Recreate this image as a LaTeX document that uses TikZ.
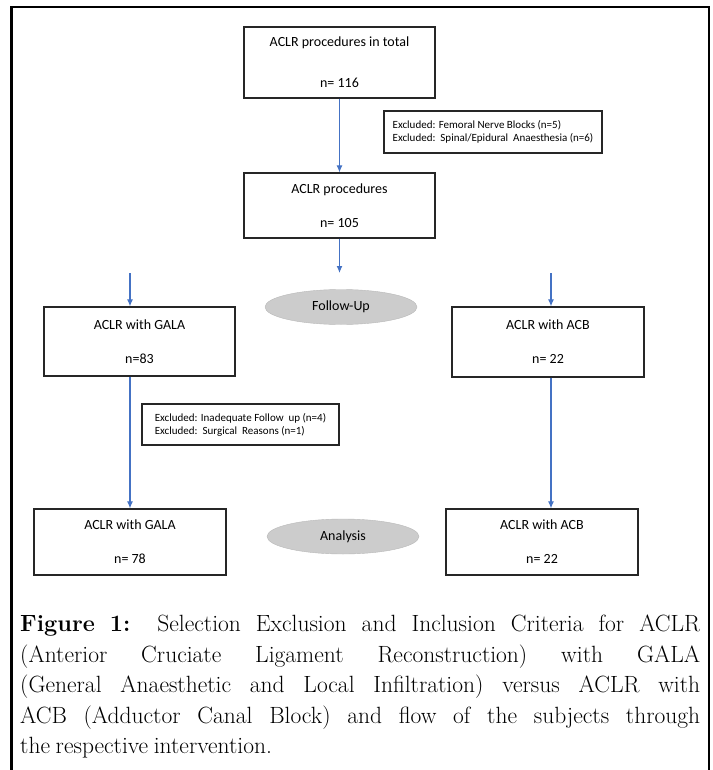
\documentclass[tikz,border=0pt]{standalone}
\usepackage{fontspec}
\setsansfont{Carlito}
\usetikzlibrary{positioning, arrows.meta, shapes}
\definecolor{flowblue}{RGB}{68,114,196}
\newcommand{\capspace}{\spaceskip=0.24em plus 0.6em minus 0.05em\relax}

\begin{document}
\begin{tikzpicture}[
        x=1pt, y=-1pt,
        font=\sffamily\fontsize{14}{16}\selectfont,
        >={LaTeX[length=7pt,width=6pt]},
        % Styles
        cell/.style={% For the count boxes
            rectangle,
            draw=black!85,
            line width=1.2pt,
            align=center,
            inner sep=0pt,
            },
        exbox/.style={% For the exclusion notes
            rectangle,
            draw=black!85,
            line width=1.2pt,
            align=left,
            inner sep=0pt,
            font=\sffamily\fontsize{11}{13}\selectfont,
            },
        stage/.style={% For the grey phase labels
            ellipse,
            draw=gray!55,
            fill=gray!40,
            minimum width=152pt,
            minimum height=35pt,
            inner sep=0pt,
            },
        caption/.style={% The figure caption
            anchor=north west,
            text width=680pt,
            align=justify,
            inner sep=0pt,
            font=\rmfamily\fontsize{23.5}{30.5}\selectfont,
            },
        ArrowC1/.style={% Blue connectors
            flowblue,
            line width=1.1pt,
            },
        ]
    \useasboundingbox (0,0) rectangle (712,770);

    % Outer frame, open at the bottom
    \draw [line width=2.6pt] (11.5,772) -- (11.5,7) -- (709,7) -- (709,772);

    % Nodes
        % Count boxes
        \node [cell, minimum width=191pt, minimum height=71pt] (total) at (339.5,62.5) {ACLR procedures in total\\[25pt]n= 116};
        \node [cell, minimum width=191pt, minimum height=65pt] (proc) at (339.5,205.5) {ACLR procedures\\[18pt]n= 105};
        \node [cell, minimum width=191pt, minimum height=69pt] (gala) at (139.5,341.5) {ACLR with GALA\\[18pt]n=83};
        \node [cell, minimum width=192pt, minimum height=70pt] (acb) at (548,342) {ACLR with ACB\\[18pt]n= 22};
        \node [cell, minimum width=192pt, minimum height=66pt] (galaEnd) at (130,542) {ACLR with GALA\\[18pt]n= 78};
        \node [cell, minimum width=192pt, minimum height=66pt] (acbEnd) at (542,542) {ACLR with ACB\\[18pt]n= 22};

        % Exclusion notes
        \node [exbox, minimum width=218pt, minimum height=42pt] (exclA) at (493,132) {Excluded: Femoral Nerve Blocks (n=5)\\Excluded:\ \ Spinal/Epidural\ \ Anaesthesia (n=6)};
        \node [exbox, minimum width=197pt, minimum height=41pt] (exclB) at (240.5,424.5) {Excluded: Inadequate Follow\ \ up (n=4)\\Excluded:\ \ Surgical\ \ Reasons (n=1)};

        % Phases
        \node [stage] (follow) at (341,307) {Follow-Up};
        \node [stage] (analysis) at (343,536.5) {Analysis};

        % Free ends of the short arrows
        \coordinate (procOut) at (339.5,273);
        \coordinate (galaIn) at (130,273);
        \coordinate (acbIn) at (551,273);

    % Arrows
        \draw [->, ArrowC1] (total) -- (proc);
        \draw [->, ArrowC1] (proc) -- (procOut);
        \draw [->, ArrowC1] (galaIn) -- (galaIn |- gala.north);
        \draw [->, ArrowC1] (acbIn) -- (acbIn |- acb.north);
        \draw [->, ArrowC1] (galaEnd |- gala.south) -- (galaEnd);
        \draw [->, ArrowC1] (acbIn |- acb.south) -- (acbIn |- acbEnd.north);

    % Caption
    \node [caption] (cap) at (20,615) {\capspace\textbf{Figure 1:} Selection Exclusion and Inclusion Criteria for ACLR\linebreak (Anterior Cruciate Ligament Reconstruction) with GALA\linebreak (General Anaesthetic and Local Infiltration) versus ACLR with\linebreak ACB (Adductor Canal Block) and flow of the subjects through\linebreak the respective intervention.};

\end{tikzpicture}
\end{document}
